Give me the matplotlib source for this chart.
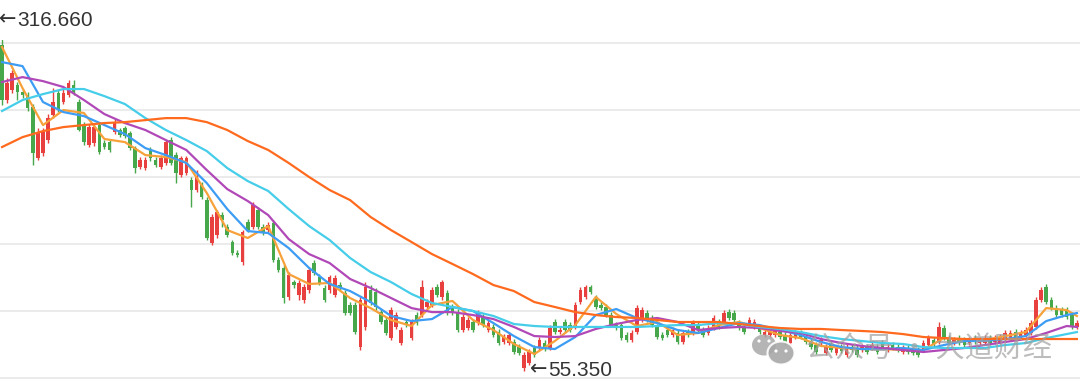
import numpy as np
import matplotlib
matplotlib.use("Agg")
import matplotlib.pyplot as plt
from matplotlib.patches import Ellipse

# daily candles (open / close / high / low)
opens = [298.5, 257.5, 264.9, 268.7, 263.4, 261.2, 252.2, 214.2, 217.9, 227.6,
         246.3, 262.7, 256.0, 261.2, 268.7, 256.0, 238.8, 223.9, 225.4, 238.8,
         225.4, 226.1, 233.6, 235.1, 236.6, 232.8, 221.6, 207.5, 206.7, 220.2,
         212.7, 207.5, 210.5, 227.6, 216.4, 201.5, 203.0, 197.8, 190.3, 194.0,
         182.8, 150.7, 156.7, 171.6, 162.7, 151.5, 143.3, 136.6, 166.4, 162.7,
         175.4, 162.7, 160.4, 165.7, 138.1, 132.1, 110.5, 121.6, 111.9, 108.2,
         115.7, 135.8, 125.4, 117.2, 115.7, 111.9, 119.4, 113.4, 104.5, 104.5,
         73.1, 88.1, 115.7, 114.2, 99.2, 93.3, 79.8, 88.1, 76.1, 91.8,
         79.8, 97.0, 97.0, 103.0, 104.5, 117.9, 110.5, 113.4, 103.0, 99.2,
         85.8, 87.3, 91.8, 91.0, 95.5, 85.8, 88.1, 84.3, 76.9, 76.1,
         76.9, 73.1, 57.5, 61.2, 72.4, 73.1, 76.1, 72.4, 91.8, 84.3,
         91.8, 89.5, 88.1, 106.7, 110.5, 117.9, 109.7, 104.5, 103.0, 97.0,
         89.5, 89.5, 82.1, 78.4, 84.3, 93.3, 98.5, 94.8, 88.1, 82.1,
         85.8, 82.1, 83.6, 76.9, 84.3, 83.6, 89.5, 85.8, 83.6, 87.3,
         91.8, 91.8, 99.2, 98.5, 91.0, 88.1, 89.5, 88.1, 87.3, 82.1,
         82.1, 82.1, 84.3, 82.1, 76.1, 80.6, 83.6, 80.6, 76.9, 74.6,
         76.1, 68.7, 74.6, 68.7, 73.1, 67.2, 73.1, 72.4, 70.9, 73.1,
         72.4, 73.1, 76.1, 70.9, 74.6, 73.1, 69.4, 72.4, 70.9, 70.9,
         70.9, 74.6, 78.4, 76.9, 87.3, 79.8, 76.1, 79.8, 78.4, 76.1,
         79.8, 76.1, 76.1, 79.8, 76.9, 76.9, 78.4, 79.8, 84.3, 80.6,
         82.1, 83.6, 88.1, 108.2, 117.9, 108.2, 102.2, 100.7, 100.7, 97.0,
         88.1]
closes = [257.5, 270.2, 277.6, 263.4, 261.2, 251.5, 217.9, 233.6, 233.6, 244.0,
          256.0, 250.0, 262.7, 270.2, 263.4, 235.1, 226.1, 237.3, 237.3, 218.7,
          222.4, 220.2, 241.0, 231.3, 230.6, 221.6, 206.7, 212.7, 212.7, 214.2,
          209.0, 214.2, 226.1, 210.5, 203.0, 214.2, 214.2, 190.3, 200.0, 185.1,
          154.5, 170.2, 173.9, 167.9, 156.7, 143.3, 141.8, 158.9, 160.4, 179.1,
          162.7, 158.2, 164.2, 138.1, 130.6, 109.7, 126.9, 119.4, 120.9, 117.9,
          130.6, 128.4, 120.9, 108.2, 125.4, 124.6, 117.2, 98.5, 98.5, 84.3,
          108.2, 117.9, 106.0, 103.0, 91.8, 83.6, 100.7, 97.0, 85.8, 89.5,
          91.8, 91.0, 117.9, 106.7, 115.7, 111.9, 121.6, 98.5, 98.5, 85.8,
          95.5, 93.3, 85.8, 98.5, 89.5, 91.0, 82.1, 76.1, 80.6, 82.1,
          69.4, 68.7, 67.2, 69.4, 67.2, 78.4, 71.6, 87.3, 84.3, 85.8,
          85.8, 85.8, 104.5, 115.7, 117.9, 114.2, 103.0, 102.2, 97.0, 89.5,
          87.3, 79.8, 78.4, 83.6, 102.2, 100.7, 93.3, 89.5, 80.6, 79.8,
          82.1, 85.8, 76.9, 83.6, 82.1, 91.0, 85.8, 82.1, 87.3, 94.8,
          88.1, 98.5, 94.8, 93.3, 87.3, 84.3, 93.3, 91.8, 84.3, 84.3,
          84.3, 85.1, 80.6, 76.1, 82.1, 83.6, 80.6, 76.9, 73.1, 69.4,
          78.4, 73.1, 70.9, 72.4, 70.1, 73.1, 70.9, 67.2, 73.1, 69.4,
          74.6, 69.4, 73.1, 73.1, 72.4, 70.9, 72.4, 69.4, 68.7, 67.2,
          76.1, 79.8, 74.6, 88.1, 79.8, 76.1, 78.4, 76.1, 74.6, 78.4,
          76.9, 78.4, 79.8, 76.1, 79.8, 80.6, 83.6, 83.6, 80.6, 83.6,
          85.8, 91.0, 108.2, 115.7, 106.7, 102.2, 97.0, 97.0, 95.5, 88.1,
          91.0]
highs = [316.66, 273.9, 279.9, 270.9, 265.7, 263.4, 254.5, 236.6, 236.6, 247.0,
         266.4, 264.9, 266.4, 272.4, 272.4, 258.2, 241.0, 239.6, 239.6, 241.0,
         227.6, 228.4, 243.3, 236.6, 238.1, 234.3, 223.1, 214.9, 214.9, 222.4,
         214.9, 216.4, 227.6, 229.8, 218.7, 215.7, 215.7, 200.0, 205.2, 196.3,
         185.1, 172.4, 175.4, 173.9, 164.9, 153.0, 145.5, 160.4, 168.7, 181.3,
         177.6, 164.9, 166.4, 167.9, 140.3, 134.3, 129.1, 123.1, 123.1, 120.2,
         132.8, 138.1, 127.6, 119.4, 126.9, 126.9, 121.6, 115.7, 106.7, 106.7,
         110.5, 121.6, 119.4, 117.2, 101.5, 95.5, 103.0, 99.2, 88.1, 94.0,
         94.0, 99.2, 123.1, 109.0, 117.9, 120.2, 123.1, 115.7, 105.2, 101.5,
         97.8, 95.5, 94.0, 100.7, 97.8, 93.3, 90.3, 86.6, 82.8, 84.3,
         79.1, 75.4, 69.4, 71.6, 74.6, 80.6, 78.4, 89.5, 94.0, 88.1,
         94.0, 91.8, 106.7, 117.9, 119.4, 119.4, 111.9, 106.7, 105.2, 99.2,
         91.8, 91.8, 84.3, 85.8, 104.5, 103.0, 100.7, 97.0, 90.3, 84.3,
         88.1, 88.1, 85.8, 85.8, 86.6, 93.3, 91.8, 88.1, 89.5, 97.0,
         94.0, 100.7, 101.5, 100.7, 93.3, 90.3, 95.5, 94.0, 89.5, 86.6,
         86.6, 87.3, 86.6, 84.3, 84.3, 85.8, 85.8, 82.8, 79.1, 76.9,
         80.6, 75.4, 76.9, 74.6, 75.4, 75.4, 75.4, 74.6, 75.4, 75.4,
         76.9, 75.4, 78.4, 75.4, 76.9, 75.4, 74.6, 74.6, 73.1, 73.1,
         78.4, 82.1, 80.6, 91.8, 89.5, 82.1, 80.6, 82.1, 80.6, 80.6,
         82.1, 80.6, 82.1, 82.1, 82.1, 82.8, 85.8, 85.8, 86.6, 85.8,
         88.1, 93.3, 110.5, 117.9, 120.2, 110.5, 104.5, 103.0, 103.0, 99.2,
         93.3]
lows = [253.7, 255.2, 262.7, 257.5, 258.9, 249.3, 209.0, 212.7, 215.7, 225.4,
        244.0, 248.5, 254.5, 259.7, 261.2, 234.3, 223.9, 222.4, 223.1, 217.2,
        220.9, 218.7, 232.1, 229.8, 229.1, 220.2, 203.0, 206.0, 205.2, 211.9,
        207.5, 206.0, 209.0, 209.0, 195.5, 200.0, 201.5, 177.6, 188.8, 183.6,
        153.0, 149.3, 154.5, 162.7, 155.2, 141.8, 140.3, 134.3, 158.9, 161.2,
        161.2, 156.7, 158.9, 136.6, 129.1, 106.0, 108.2, 117.2, 108.2, 106.0,
        113.4, 126.9, 119.4, 106.7, 113.4, 110.5, 115.7, 97.0, 97.0, 82.8,
        70.9, 85.8, 104.5, 100.7, 90.3, 82.1, 78.4, 86.6, 74.6, 88.1,
        78.4, 89.5, 95.5, 101.5, 103.0, 110.5, 108.2, 97.0, 97.0, 84.3,
        84.3, 85.8, 84.3, 89.5, 88.1, 84.3, 80.6, 74.6, 75.4, 74.6,
        67.9, 67.2, 55.35, 59.7, 65.7, 70.9, 70.1, 70.9, 82.8, 82.8,
        84.3, 84.3, 86.6, 105.2, 109.0, 112.7, 101.5, 100.7, 95.5, 88.1,
        85.8, 78.4, 76.9, 76.9, 82.8, 91.8, 91.8, 88.1, 79.1, 78.4,
        80.6, 80.6, 75.4, 75.4, 80.6, 82.1, 84.3, 80.6, 82.1, 85.8,
        86.6, 90.3, 93.3, 91.8, 85.8, 82.8, 88.1, 86.6, 82.8, 80.6,
        80.6, 80.6, 79.1, 74.6, 74.6, 79.1, 79.1, 75.4, 71.6, 67.9,
        74.6, 67.2, 69.4, 67.2, 68.7, 65.7, 69.4, 65.7, 69.4, 67.9,
        70.9, 67.9, 71.6, 69.4, 70.9, 69.4, 67.9, 67.9, 67.2, 65.7,
        69.4, 73.1, 73.1, 75.4, 78.4, 74.6, 74.6, 74.6, 73.1, 74.6,
        75.4, 74.6, 74.6, 74.6, 75.4, 75.4, 76.9, 78.4, 79.1, 79.1,
        80.6, 82.1, 86.6, 106.7, 105.2, 100.7, 95.5, 95.5, 94.0, 86.6,
        86.6]

# moving averages, read every 4th session
ma_idx = list(range(0, 209, 4)) + [210]
ma5 = [297.0, 266.4, 238.8, 250.0, 247.8, 228.4, 226.1, 216.4, 214.9, 211.2,
       188.1, 160.4, 154.5, 163.4, 127.6, 120.2, 120.9, 109.7, 102.2, 93.3,
       88.8, 104.5, 107.5, 93.3, 85.8, 75.4, 67.9, 77.6, 89.5, 110.5,
       97.8, 88.8, 91.8, 82.1, 83.6, 89.5, 91.8, 87.3, 82.1, 79.8,
       73.9, 72.4, 71.6, 71.6, 70.9, 70.9, 79.8, 78.4, 78.4, 81.3,
       84.3, 102.2, 100.7, 96.3]
ma10 = [285.8, 282.8, 256.0, 248.5, 245.5, 238.8, 232.1, 221.6, 216.4, 210.5,
        195.5, 176.1, 159.7, 158.2, 147.0, 132.1, 120.2, 114.9, 106.7, 96.3,
        92.5, 94.0, 103.0, 100.0, 91.0, 81.3, 73.1, 71.6, 80.6, 97.0,
        101.5, 94.8, 91.0, 85.8, 83.6, 87.3, 91.0, 89.5, 85.8, 82.1,
        76.9, 73.1, 71.6, 71.6, 72.4, 70.9, 74.6, 77.6, 77.6, 79.1,
        81.3, 92.5, 97.0, 98.5]
ma20 = [270.9, 274.6, 271.6, 267.2, 257.5, 247.0, 240.3, 235.1, 227.6, 220.2,
        205.2, 191.0, 182.1, 171.6, 153.7, 142.5, 135.8, 123.9, 117.2, 109.7,
        102.2, 99.2, 99.2, 97.0, 94.0, 88.1, 81.3, 80.6, 81.3, 86.6,
        90.3, 93.3, 94.8, 91.8, 85.8, 87.3, 88.1, 87.3, 85.1, 83.6,
        79.1, 76.1, 73.9, 72.4, 70.9, 69.4, 70.9, 72.4, 74.6, 76.9,
        79.1, 83.6, 88.8, 88.1]
ma30 = [249.3, 257.5, 261.9, 265.7, 265.7, 260.4, 254.5, 244.0, 235.1, 227.6,
        219.4, 206.7, 197.0, 189.6, 176.1, 163.4, 153.0, 139.6, 129.1, 121.6,
        112.7, 106.0, 103.0, 100.0, 96.3, 90.3, 88.8, 88.1, 88.1, 88.1,
        88.1, 88.1, 88.8, 89.5, 89.5, 91.0, 90.3, 88.1, 86.6, 84.3,
        81.3, 79.1, 77.6, 76.1, 75.4, 73.1, 72.4, 72.4, 72.4, 74.6,
        76.1, 79.8, 82.8, 84.3]
ma60 = [222.4, 229.8, 234.3, 237.3, 238.8, 240.3, 241.0, 242.5, 244.0, 244.0,
        241.0, 235.1, 226.9, 220.2, 210.5, 200.0, 190.3, 182.8, 170.2, 160.4,
        151.5, 142.5, 135.1, 127.6, 119.4, 114.9, 106.7, 103.0, 99.2, 97.0,
        95.5, 94.8, 93.3, 91.8, 91.8, 91.8, 90.3, 88.8, 87.3, 86.6,
        86.6, 85.8, 85.1, 84.3, 82.8, 80.6, 79.8, 79.1, 79.1, 79.1,
        79.1, 79.1, 79.1, 79.1]

UP = "#e8403e"
DOWN = "#47a84b"
ma_styles = [(ma5, "#f6a13a"), (ma10, "#3d9cf3"), (ma20, "#b148b8"),
             (ma30, "#45cde9"), (ma60, "#ff6a1e")]

o = np.array(opens)
c = np.array(closes)
h = np.array(highs)
l = np.array(lows)
x = np.arange(len(o))
cols = np.where(c >= o, UP, DOWN)

fig = plt.figure(figsize=(10.8, 3.92), dpi=100)
ax = fig.add_axes([0, 0, 1, 352 / 392])
ax.set_xlim(-0.4, 210.6)
ax.set_ylim(39.55, 302.3)
for s in ax.spines.values():
    s.set_visible(False)
ax.set_xticks([])
ax.set_yticks([50, 100, 150, 200, 250, 300])
ax.tick_params(left=False, labelleft=False)
ax.grid(axis="y", color="#e6e6e6", lw=1.1)
ax.set_axisbelow(True)

ax.vlines(x, l, h, colors=cols, lw=1.0, zorder=2)
body = np.maximum(np.abs(c - o), 0.7)
ax.bar(x, body, bottom=np.minimum(o, c), width=0.7, color=cols, lw=0, zorder=2)

for vals, col in ma_styles:
    ax.plot(ma_idx, vals, color=col, lw=1.6, zorder=3, solid_joinstyle="round")


def mark(i, v, dx):
    # arrow + value, like the reference's max/min markers
    ax.annotate("←", (i, v), xytext=(dx, 1), textcoords="offset pixels",
                ha="left", va="center", fontsize=15, color="#333333",
                family="DejaVu Sans", annotation_clip=False)
    ax.annotate(f"{v:.3f}", (i, v), xytext=(dx + 18, 0),
                textcoords="offset pixels", ha="left", va="center",
                fontsize=15, color="#333333",
                family=["Liberation Sans", "DejaVu Sans"], annotation_clip=False)


imax = int(np.argmax(h))
imin = int(np.argmin(l))
mark(imax, h[imax], -3)
mark(imin, l[imin], 6)

# watermark overlay in pixel space
ov = fig.add_axes([0, 0, 1, 1], zorder=5)
ov.set_xlim(0, 1080)
ov.set_ylim(392, 0)
ov.axis("off")
ov.patch.set_alpha(0)
ov.add_patch(Ellipse((764, 345), 24, 21, color="#a8a8a8", alpha=0.85, lw=0))
ov.add_patch(Ellipse((781, 353), 27, 23, facecolor="#a8a8a8", edgecolor="white",
                     lw=1.5, alpha=0.9))
for ex, ey in [(759, 341), (769, 341), (776, 351), (786, 351)]:
    ov.add_patch(Ellipse((ex, ey), 3.2, 3.2, color="white", lw=0))
ov.text(806, 350, "公众号 · 大道财经", ha="left", va="center", fontsize=21,
        color="#a0a0a0", alpha=0.7, family=["Noto Sans CJK SC", "DejaVu Sans"])

fig.savefig("out.png", dpi=100)
